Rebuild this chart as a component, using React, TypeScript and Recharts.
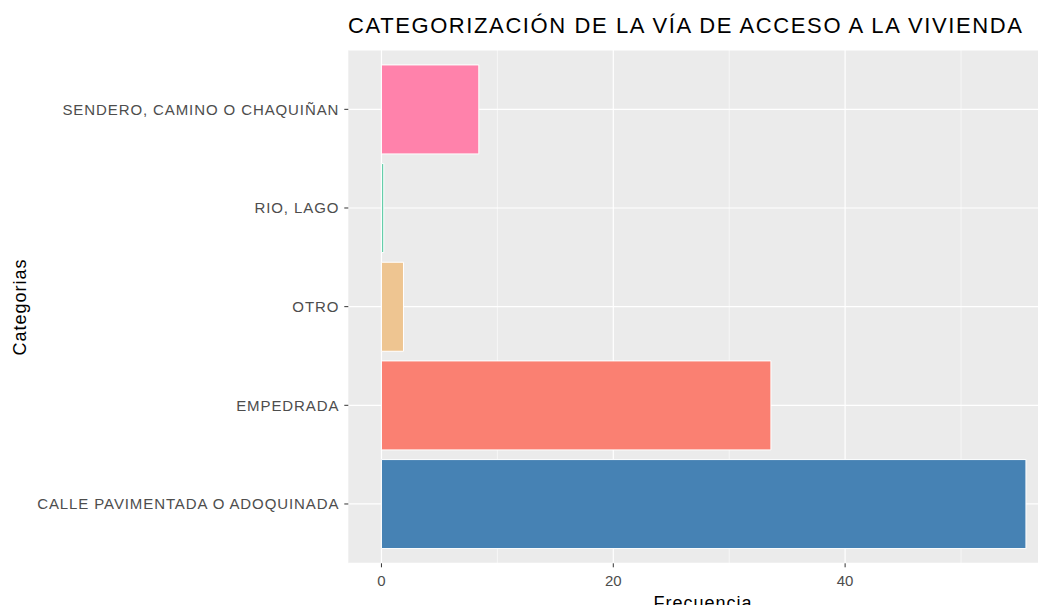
import { Bar, BarChart, CartesianGrid, Cell, XAxis, YAxis } from 'recharts';

const CATEGORIES = [
  'SENDERO, CAMINO O CHAQUIÑAN',
  'RIO, LAGO',
  'OTRO',
  'EMPEDRADA',
  'CALLE PAVIMENTADA O ADOQUINADA',
];
const FRECUENCIA = [8.4, 0.2, 1.9, 33.6, 55.6];
const COLORS = ['#FF82AB', '#66CDAA', '#EEC591', '#FA8072', '#4682B4'];
const MAJOR_TICKS = [0, 20, 40];
const MINOR_TICKS = [10, 30, 50];
const X_DOMAIN = [-2.86, 57.33];

const FONT = '"Liberation Sans", Arial, sans-serif';

// vertical grid lines placed from the plot offset and the x domain
function gridGen(values: number[]) {
  return (props: any) => {
    const scale = props?.xAxis?.scale;
    if (typeof scale === 'function') return values.map((v) => scale(v));
    if (scale && typeof scale.map === 'function') return values.map((v) => scale.map(v));
    const { left, width } = props.offset;
    return values.map((v) => left + ((v - X_DOMAIN[0]) / (X_DOMAIN[1] - X_DOMAIN[0])) * width);
  };
}

export default function App() {
  const data = CATEGORIES.map((c, i) => ({ cat: c, value: FRECUENCIA[i] }));
  return (
    <div style={{ position: 'relative', width: 1046, height: 613, margin: -8, background: '#fff', fontFamily: FONT, overflow: 'hidden' }}>
      <div style={{ position: 'absolute', left: 348, top: 13, fontSize: 22, letterSpacing: 1.6, color: '#000', whiteSpace: 'nowrap' }}>
        CATEGORIZACIÓN DE LA VÍA DE ACCESO A LA VIVIENDA
      </div>
      <div
        style={{
          position: 'absolute',
          left: 20,
          top: 307,
          fontSize: 18,
          letterSpacing: 1,
          color: '#000',
          transform: 'translate(-50%, -50%) rotate(-90deg)',
          whiteSpace: 'nowrap',
        }}
      >
        Categorias
      </div>
      <div
        style={{
          position: 'absolute',
          left: 703,
          top: 603,
          fontSize: 18,
          letterSpacing: 1,
          color: '#000',
          transform: 'translate(-50%, -50%)',
          whiteSpace: 'nowrap',
        }}
      >
        Frecuencia
      </div>
      <BarChart
        width={1046}
        height={613}
        data={data}
        layout="vertical"
        margin={{ top: 50, right: 0, left: 0, bottom: 0 }}
        barCategoryGap="5%"
      >
        <CartesianGrid
          fill="#EBEBEB"
          stroke="#FFFFFF"
          strokeWidth={0.6}
          horizontal={false}
          verticalCoordinatesGenerator={gridGen(MINOR_TICKS)}
        />
        <CartesianGrid
          stroke="#FFFFFF"
          strokeWidth={1.2}
          verticalCoordinatesGenerator={gridGen(MAJOR_TICKS)}
        />
        <XAxis
          type="number"
          domain={X_DOMAIN}
          ticks={MAJOR_TICKS}
          allowDataOverflow
          axisLine={false}
          tickLine={{ stroke: '#333333' }}
          tickSize={4}
          tickMargin={8}
          height={49.7}
          tick={{ fill: '#4D4D4D', fontSize: 15, fontFamily: FONT }}
        />
        <YAxis
          type="category"
          dataKey="cat"
          width={348.3}
          axisLine={false}
          tickLine={{ stroke: '#333333' }}
          tickSize={4}
          tickMargin={5}
          padding={{ top: 10, bottom: 10 }}
          tick={{ fill: '#4D4D4D', fontSize: 15, fontFamily: FONT, letterSpacing: 0.9 }}
          interval={0}
        />
        <Bar dataKey="value" stroke="#FFFFFF" strokeWidth={1} isAnimationActive={false}>
          {data.map((_, i) => (
            <Cell key={i} fill={COLORS[i]} />
          ))}
        </Bar>
      </BarChart>
    </div>
  );
}
